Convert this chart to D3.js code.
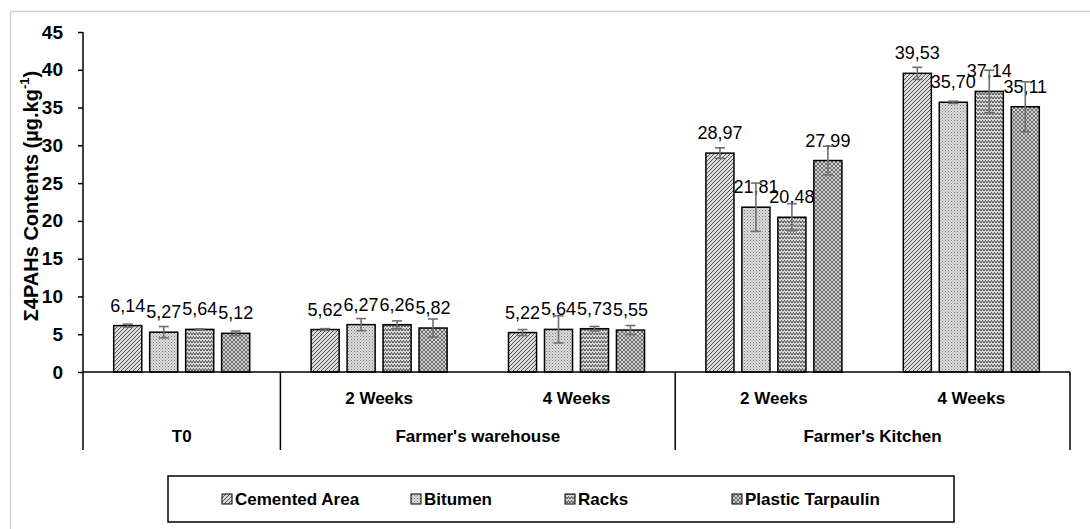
<!DOCTYPE html>
<html>
<head>
<meta charset="utf-8">
<script src="https://cdn.jsdelivr.net/npm/d3@7"></script>
<style>
  body { margin: 0; background: #fff; }
  text { font-family: Arial, "Liberation Sans", sans-serif; }
</style>
</head>
<body>
<script>
var w = 1090;
var h = 529;

// data
var series = ["Cemented Area", "Bitumen", "Racks", "Plastic Tarpaulin"];
var slots = ["T0", "FW2", "FW4", "FK2", "FK4"];
var innerLabels = ["", "2 Weeks", "4 Weeks", "2 Weeks", "4 Weeks"];
var groups = [
  { name: "T0", from: 0, to: 0 },
  { name: "Farmer's warehouse", from: 1, to: 2 },
  { name: "Farmer's Kitchen", from: 3, to: 4 }
];
var cemented = [6.14, 5.62, 5.22, 28.97, 39.53];
var bitumen = [5.27, 6.27, 5.64, 21.81, 35.70];
var racks = [5.64, 6.26, 5.73, 20.48, 37.14];
var tarpaulin = [5.12, 5.82, 5.55, 27.99, 35.11];
var cementedErr = [0.2, 0.12, 0.4, 0.7, 0.8];
var bitumenErr = [0.75, 0.8, 1.8, 3.2, 0.15];
var racksErr = [0.08, 0.5, 0.3, 1.8, 2.8];
var tarpaulinErr = [0.3, 1.2, 0.6, 1.9, 3.3];
var yTicks = [0, 5, 10, 15, 20, 25, 30, 35, 40, 45];

var values = [cemented, bitumen, racks, tarpaulin];
var errors = [cementedErr, bitumenErr, racksErr, tarpaulinErr];

var svg = d3.select("body").append("svg").attr("width", w).attr("height", h);

// patterns
var defs = svg.append("defs");
var p1 = defs.append("pattern").attr("id", "pat0").attr("patternUnits", "userSpaceOnUse")
  .attr("width", 4).attr("height", 4);
p1.append("rect").attr("width", 4).attr("height", 4).attr("fill", "#dadada");
p1.append("path").attr("d", "M-1,1 l2,-2 M0,4 l4,-4 M3,5 l2,-2").attr("stroke", "#555").attr("stroke-width", 1);

var p2 = defs.append("pattern").attr("id", "pat1").attr("patternUnits", "userSpaceOnUse")
  .attr("width", 3).attr("height", 3);
p2.append("rect").attr("width", 3).attr("height", 3).attr("fill", "#dddddd");
p2.append("rect").attr("width", 1).attr("height", 1).attr("fill", "#7a7a7a");
p2.append("rect").attr("x", 1.5).attr("y", 1.5).attr("width", 1).attr("height", 1).attr("fill", "#929292");

var p3 = defs.append("pattern").attr("id", "pat2").attr("patternUnits", "userSpaceOnUse")
  .attr("width", 6).attr("height", 4);
p3.append("rect").attr("width", 6).attr("height", 4).attr("fill", "#d4d4d4");
p3.append("path").attr("d", "M0,3 L1.5,0.5 L3,3 L4.5,0.5 L6,3").attr("fill", "none")
  .attr("stroke", "#4f4f4f").attr("stroke-width", 1);

var p4 = defs.append("pattern").attr("id", "pat3").attr("patternUnits", "userSpaceOnUse")
  .attr("width", 4).attr("height", 4);
p4.append("rect").attr("width", 4).attr("height", 4).attr("fill", "#cfcfcf");
p4.append("path").attr("d", "M0,2 L2,0 L4,2 L2,4 Z").attr("fill", "none")
  .attr("stroke", "#666").attr("stroke-width", 0.9);

// outer frame
svg.append("rect").attr("x", 10.5).attr("y", 11.5).attr("width", 1100).attr("height", 600)
  .attr("fill", "none").attr("stroke", "#d0d0d0").attr("stroke-width", 1.5);

var plotLeft = 83, plotRight = 1070, plotTop = 32, plotBase = 372;

var x0 = d3.scaleBand().domain(slots).range([plotLeft, plotRight]).padding(0);
var x1 = d3.scaleBand().domain(series).range([0, x0.bandwidth()])
  .paddingInner(0.22).paddingOuter(0.853);
var y = d3.scaleLinear().domain([0, 45]).range([plotBase, plotTop]);

// y axis
var yAxis = svg.append("g").attr("transform", "translate(" + plotLeft + ",0)")
  .call(d3.axisLeft(y).tickValues(yTicks).tickSize(5).tickPadding(15));
yAxis.select(".domain").remove();
yAxis.selectAll(".tick line").attr("stroke", "#000").attr("stroke-width", 1.5);
yAxis.selectAll(".tick text").attr("font-size", 19).attr("font-weight", "bold").attr("fill", "#000")
  .attr("font-family", "Arial, 'Liberation Sans', sans-serif");
svg.append("line").attr("x1", plotLeft).attr("x2", plotLeft).attr("y1", plotTop).attr("y2", 450)
  .attr("stroke", "#000").attr("stroke-width", 1.5);

// y title
var yt = svg.append("text").attr("transform", "translate(31," + ((plotTop + plotBase) / 2 - 6) + ") rotate(-90)")
  .attr("text-anchor", "middle").attr("dominant-baseline", "central")
  .attr("font-size", 20).attr("font-weight", "bold");
yt.append("tspan").text("Σ4PAHs Contents (µg.kg");
yt.append("tspan").attr("font-size", 13).attr("dy", -7).text("-1");
yt.append("tspan").attr("dy", 7).text(")");

// bars
series.forEach(function (s, si) {
  var g = svg.append("g");
  g.selectAll("rect").data(values[si]).enter().append("rect")
    .attr("x", function (d, i) { return x0(slots[i]) + x1(s); })
    .attr("y", function (d) { return y(d); })
    .attr("width", x1.bandwidth())
    .attr("height", function (d) { return y(0) - y(d); })
    .attr("fill", "url(#pat" + si + ")")
    .attr("stroke", "#000").attr("stroke-width", 1.5);

  values[si].forEach(function (d, i) {
    var cx = x0(slots[i]) + x1(s) + x1.bandwidth() / 2;
    var e = errors[si][i];
    var eg = svg.append("g").attr("stroke", "#6f6f6f").attr("stroke-width", 1.6);
    eg.append("line").attr("x1", cx).attr("x2", cx).attr("y1", y(d + e)).attr("y2", y(d - e));
    eg.append("line").attr("x1", cx - 5).attr("x2", cx + 5).attr("y1", y(d + e)).attr("y2", y(d + e));
    eg.append("line").attr("x1", cx - 5).attr("x2", cx + 5).attr("y1", y(d - e)).attr("y2", y(d - e));
  });

  g.selectAll("text").data(values[si]).enter().append("text")
    .attr("x", function (d, i) { return x0(slots[i]) + x1(s) + x1.bandwidth() / 2; })
    .attr("y", function (d) { return y(d) - 20; })
    .attr("text-anchor", "middle").attr("dominant-baseline", "central")
    .attr("font-size", 18).attr("fill", "#000")
    .text(function (d) { return d.toFixed(2).replace(".", ","); });
});

// x axis line and multi-level category axis
svg.append("line").attr("x1", plotLeft).attr("x2", plotRight).attr("y1", plotBase).attr("y2", plotBase)
  .attr("stroke", "#000").attr("stroke-width", 1.5);

slots.forEach(function (s, i) {
  svg.append("text").attr("x", x0(s) + x0.bandwidth() / 2).attr("y", 398)
    .attr("text-anchor", "middle").attr("dominant-baseline", "central")
    .attr("font-size", 17).attr("font-weight", "bold").text(innerLabels[i]);
});
groups.forEach(function (gr) {
  var gx0 = x0(slots[gr.from]);
  var gx1 = x0(slots[gr.to]) + x0.bandwidth();
  svg.append("text").attr("x", (gx0 + gx1) / 2).attr("y", 436)
    .attr("text-anchor", "middle").attr("dominant-baseline", "central")
    .attr("font-size", 17).attr("font-weight", "bold").text(gr.name);
  svg.append("line").attr("x1", gx1).attr("x2", gx1).attr("y1", plotBase).attr("y2", 450)
    .attr("stroke", "#000").attr("stroke-width", 1.5);
});

// legend
svg.append("rect").attr("x", 168).attr("y", 476).attr("width", 786).attr("height", 46)
  .attr("fill", "#fff").attr("stroke", "#000").attr("stroke-width", 1.5);
var legX = [222, 411, 565, 732];
series.forEach(function (s, si) {
  svg.append("rect").attr("x", legX[si]).attr("y", 494).attr("width", 10).attr("height", 10)
    .attr("fill", "url(#pat" + si + ")").attr("stroke", "#000").attr("stroke-width", 1);
  svg.append("text").attr("x", legX[si] + 13).attr("y", 499).attr("dominant-baseline", "central")
    .attr("font-size", 17).attr("font-weight", "bold").text(s);
});
</script>
</body>
</html>
